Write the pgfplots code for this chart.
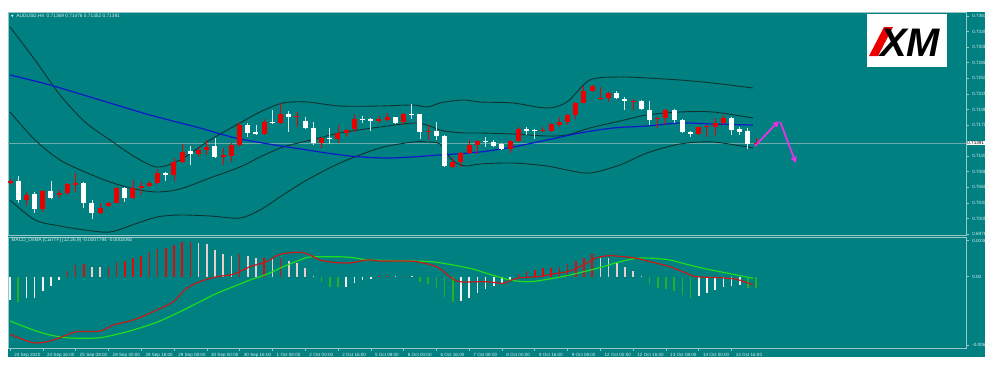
\documentclass[border=0pt]{standalone}
\usepackage{pgfplots}
\pgfplotsset{compat=1.18}
\usepackage{pgfplotstable}
\usepackage{fontspec}
\setmainfont{Liberation Sans}
\newfontfamily\dejavu{DejaVu Sans}
\usetikzlibrary{arrows.meta}

\definecolor{bg}{RGB}{0,128,128}
\definecolor{axl}{RGB}{150,200,200}
\definecolor{lab}{RGB}{225,240,240}
\definecolor{band}{RGB}{15,50,50}
\definecolor{ma}{RGB}{15,25,200}
\definecolor{cred}{RGB}{235,0,0}
\definecolor{cwick}{RGB}{215,230,230}
\definecolor{hred}{RGB}{225,10,10}
\definecolor{hpink}{RGB}{235,205,205}
\definecolor{hgreen}{RGB}{40,175,40}
\definecolor{hwhite}{RGB}{240,240,240}
\definecolor{mred}{RGB}{200,25,25}
\definecolor{mgreen}{RGB}{30,220,30}
\definecolor{arrowc}{RGB}{230,50,230}
\definecolor{curline}{RGB}{110,172,172}

% red (bullish) candles: index open high low close
\pgfplotstableread{
x o h l c
0 0.70676 0.70743 0.70654 0.70721
2 0.70381 0.70527 0.70275 0.70469
4 0.70216 0.70557 0.70174 0.70540
6 0.70469 0.70557 0.70411 0.70510
7 0.70510 0.70686 0.70469 0.70658
8 0.70646 0.70863 0.70527 0.70686
11 0.70156 0.70328 0.70133 0.70245
12 0.70275 0.70351 0.70262 0.70322
13 0.70333 0.70610 0.70319 0.70587
15 0.70411 0.70734 0.70393 0.70587
16 0.70587 0.70704 0.70469 0.70628
17 0.70628 0.70721 0.70616 0.70676
18 0.70676 0.70923 0.70658 0.70852
20 0.70822 0.71117 0.70721 0.71057
21 0.71057 0.71370 0.71039 0.71234
23 0.71193 0.71311 0.71145 0.71264
24 0.71264 0.71440 0.71175 0.71322
26 0.71140 0.71299 0.70999 0.71175
27 0.71158 0.71387 0.71057 0.71352
28 0.71352 0.71758 0.71317 0.71705
31 0.71541 0.71806 0.71529 0.71763
33 0.71735 0.72088 0.71723 0.71899
35 0.71854 0.71940 0.71675 0.71871
38 0.71393 0.71498 0.71294 0.71470
40 0.71458 0.71705 0.71382 0.71569
41 0.71569 0.71629 0.71511 0.71617
42 0.71629 0.71899 0.71573 0.71806
45 0.71781 0.71864 0.71735 0.71806
46 0.71793 0.71912 0.71763 0.71841
48 0.71753 0.71912 0.71705 0.71899
51 0.71587 0.71705 0.71440 0.71604
54 0.70969 0.71145 0.70940 0.71057
55 0.71057 0.71234 0.70969 0.71216
56 0.71205 0.71440 0.71193 0.71352
57 0.71352 0.71440 0.71193 0.71428
61 0.71276 0.71440 0.71205 0.71423
62 0.71423 0.71665 0.71410 0.71629
65 0.71599 0.71675 0.71573 0.71617
66 0.71599 0.71735 0.71573 0.71718
67 0.71705 0.71841 0.71675 0.71763
68 0.71763 0.71899 0.71705 0.71882
69 0.71882 0.72117 0.71806 0.72099
70 0.72099 0.72394 0.72088 0.72311
71 0.72311 0.72412 0.72293 0.72394
72 0.72159 0.72371 0.72147 0.72177
73 0.72177 0.72293 0.72117 0.72265
76 0.72124 0.72159 0.71965 0.72134
79 0.71806 0.71841 0.71647 0.71824
80 0.71824 0.71982 0.71705 0.71970
84 0.71541 0.71675 0.71529 0.71665
85 0.71665 0.71705 0.71499 0.71688
86 0.71675 0.71824 0.71529 0.71746
87 0.71735 0.71882 0.71705 0.71834
91 0.71369 0.71476 0.71352 0.71391
}\redc

% white (bearish) candles
\pgfplotstableread{
x o h l c
1 0.70716 0.70804 0.70333 0.70375
3 0.70487 0.70527 0.70156 0.70222
5 0.70540 0.70716 0.70393 0.70421
9 0.70686 0.70700 0.70234 0.70333
10 0.70333 0.70381 0.70040 0.70156
14 0.70587 0.70616 0.70351 0.70411
19 0.70852 0.70880 0.70721 0.70822
22 0.71246 0.71334 0.70999 0.71193
25 0.71334 0.71476 0.71122 0.71145
29 0.71705 0.71735 0.71499 0.71569
30 0.71587 0.71705 0.71529 0.71541
32 0.71763 0.71970 0.71723 0.71735
34 0.71899 0.71958 0.71587 0.71841
36 0.71781 0.71854 0.71640 0.71647
37 0.71647 0.71763 0.71352 0.71393
39 0.71470 0.71647 0.71370 0.71453
43 0.71806 0.71864 0.71735 0.71793
44 0.71806 0.71824 0.71604 0.71781
47 0.71841 0.71854 0.71717 0.71746
49 0.71899 0.72076 0.71806 0.71882
50 0.71899 0.71905 0.71453 0.71587
52 0.71604 0.71753 0.71440 0.71511
53 0.71511 0.71529 0.70963 0.70981
58 0.71428 0.71499 0.71322 0.71410
59 0.71410 0.71440 0.71311 0.71334
60 0.71370 0.71382 0.71264 0.71281
63 0.71629 0.71675 0.71529 0.71599
64 0.71617 0.71629 0.71453 0.71599
74 0.72276 0.72311 0.72159 0.72177
75 0.72170 0.72194 0.71965 0.72134
77 0.72134 0.72147 0.71977 0.71982
78 0.71977 0.72134 0.71705 0.71793
81 0.71970 0.71982 0.71746 0.71793
82 0.71793 0.71806 0.71559 0.71576
83 0.71587 0.71599 0.71499 0.71541
88 0.71824 0.71841 0.71529 0.71617
89 0.71629 0.71675 0.71529 0.71587
90 0.71599 0.71647 0.71276 0.71370
}\whitec

\pgfplotsset{
  chart/.style={scale only axis, width=958bp, xmin=-0.244, xmax=116.6,
    axis line style={draw=axl, line width=0.6bp},
    tick style={draw=axl, line width=0.5bp},
    tick align=outside, major tick length=2.5bp,
    ticklabel style={font=\fontsize{4.6}{5}\selectfont, text=lab},
    /pgf/number format/assume math mode=true,
    scaled y ticks=false},
  candle/.style={only marks, mark=*, mark options={draw opacity=0, fill opacity=0, scale=0.01},
    error bars/.cd, y dir=plus, y explicit, error mark=none},
}

\begin{document}
\begin{tikzpicture}
\fill[white] (0,0) rectangle (1000bp,-372bp);
\fill[bg] (8bp,-12bp) rectangle (985bp,-357bp);

% ---------- price panel ----------
\begin{axis}[chart, at={(8bp,-235bp)}, anchor=south west, height=223bp,
  ymin=0.697625, ymax=0.737007,
  xtick=\empty, ytick pos=right, yticklabel pos=right,
  ytick={0.7363,0.73355,0.7308,0.72805,0.7253,0.72255,0.7198,0.71705,0.71155,0.7088,0.70605,0.7033,0.70055,0.6978},
  yticklabels={0.73630,0.73355,0.73080,0.72805,0.72530,0.72255,0.71980,0.71705,0.71155,0.70880,0.70605,0.70330,0.70055,0.69780},
  yticklabel style={anchor=west, xshift=0.3bp}]

\addplot[curline, line width=0.5bp] coordinates {(-0.244,0.71391) (116.6,0.71391)};

% Bollinger bands
\addplot[band, line width=0.9bp, smooth] coordinates {(0,0.734358) (3.05,0.72853) (6.10,0.722349) (9.15,0.717581) (12.20,0.714402) (15.24,0.711400) (17.93,0.709634) (20.73,0.710870) (24.39,0.714402) (28.05,0.717404) (30.49,0.719347) (33.29,0.720936) (36.22,0.721113) (40.24,0.720406) (45.12,0.720406) (49.15,0.720583) (50.85,0.720230) (52.44,0.720936) (53.90,0.721289) (55.49,0.721466) (57.32,0.721113) (61.34,0.720936) (65.49,0.720053) (67.93,0.721113) (70.73,0.724998) (74.39,0.725528) (77.68,0.725351) (81.71,0.724998) (85.73,0.724468) (90.61,0.723585)};
\addplot[band, line width=0.9bp, smooth] coordinates {(0,0.719347) (3.05,0.714402) (6.10,0.710870) (9.15,0.708751) (12.20,0.706985) (15.24,0.705749) (17.93,0.705219) (20.73,0.705749) (24.39,0.707691) (28.05,0.709634) (30.49,0.711400) (33.29,0.713166) (36.22,0.714225) (40.24,0.715638) (45.12,0.716698) (49.15,0.717404) (50.85,0.717051) (52.44,0.716168) (53.90,0.715815) (55.49,0.715638) (57.32,0.715638) (61.34,0.715462) (65.49,0.715108) (67.93,0.715285) (70.73,0.716521) (74.39,0.717757) (77.68,0.718817) (81.71,0.719347) (85.73,0.719347) (90.61,0.718287)};
\addplot[band, line width=0.9bp, smooth] coordinates {(0,0.703806) (3.05,0.700274) (6.10,0.699214) (9.15,0.698508) (12.20,0.698155) (15.24,0.699568) (17.93,0.700804) (20.73,0.701157) (24.39,0.700980) (28.05,0.700627) (30.49,0.702040) (33.29,0.704689) (36.22,0.707338) (40.24,0.710340) (45.12,0.712989) (49.15,0.714049) (50.85,0.714049) (52.44,0.713696) (53.90,0.710870) (55.49,0.709810) (57.32,0.710164) (61.34,0.710340) (65.49,0.709810) (67.93,0.709104) (70.73,0.708574) (74.39,0.709987) (77.68,0.712106) (81.71,0.713696) (85.73,0.714049) (90.61,0.712989)};
% moving average
\addplot[ma, line width=1.2bp, smooth] coordinates {(0,0.725881) (4.88,0.724115) (10.98,0.721466) (17.07,0.718817) (23.17,0.716521) (28.05,0.714579) (36.22,0.712636) (41.46,0.711576) (46.34,0.711223) (52.44,0.711753) (57.32,0.712283) (61.34,0.713166) (65.49,0.714402) (69.51,0.715638) (73.54,0.716521) (77.68,0.716874) (81.71,0.717404) (85.73,0.717228) (90.61,0.717051)};

% candles: wicks
\addplot[candle, error bar style={draw=cred, line width=0.9bp}]
  table[x=x, y=l, y error plus expr=\thisrow{h}-\thisrow{l}] {\redc};
\addplot[candle, error bar style={draw=cwick, line width=0.9bp}]
  table[x=x, y=l, y error plus expr=\thisrow{h}-\thisrow{l}] {\whitec};
% candles: bodies
\addplot[candle, error bar style={draw=cred, line width=5bp}]
  table[x=x, y=o, y error plus expr=\thisrow{c}-\thisrow{o}] {\redc};
\addplot[candle, error bar style={draw=white, line width=5bp}]
  table[x=x, y=c, y error plus expr=\thisrow{o}-\thisrow{c}] {\whitec};

% arrows
\addplot[arrowc, line width=1.8bp, -{Triangle[width=6bp,length=6bp]}] coordinates {(90.85,0.71334) (93.78,0.71776)};
\addplot[arrowc, line width=1.8bp, -{Triangle[width=6bp,length=6bp]}] coordinates {(93.95,0.71758) (95.85,0.71034)};
\end{axis}

% ---------- MACD panel ----------
\begin{axis}[chart, at={(8bp,-348bp)}, anchor=south west, height=111bp,
  ymin=-0.006545, ymax=0.003644,
  xtick={0,4,...,88}, xtick pos=bottom,
  xticklabels={24 Sep 2020,24 Sep 16:00,25 Sep 08:00,28 Sep 00:00,28 Sep 16:00,29 Sep 08:00,30 Sep 00:00,30 Sep 16:00,1 Oct 08:00,2 Oct 00:00,2 Oct 16:00,5 Oct 08:00,6 Oct 00:00,6 Oct 16:00,7 Oct 08:00,8 Oct 00:00,8 Oct 16:00,9 Oct 08:00,12 Oct 00:00,12 Oct 16:00,13 Oct 08:00,14 Oct 00:00,14 Oct 16:00},
  xticklabel style={anchor=north west, xshift=0.8bp, yshift=1.2bp},
  ytick pos=right, yticklabel pos=right,
  ytick={0.00333,0,-0.00627}, yticklabels={0.003642,0.00,-0.006454},
  yticklabel style={anchor=west, xshift=0.3bp}]

\addplot[ycomb, hred, line width=1.6bp] coordinates {(7,0.000523) (8,0.001074) (9,0.001138) (12,0.000918) (13,0.001377) (14,0.001469) (15,0.001744) (16,0.001928) (17,0.00224) (18,0.002543) (19,0.002607) (20,0.00291) (21,0.003158) (22,0.00319) (28,0.002056) (31,0.00175) (33,0.00172) (45,0.00005) (46,0.00008) (48,0.00008) (62,0.00022) (63,0.000523) (64,0.000615) (65,0.000771) (66,0.000826) (67,0.000918) (68,0.001138) (69,0.001441) (70,0.001744) (71,0.002056)};
\addplot[ycomb, hpink, line width=1.6bp] coordinates {(10,0.000918) (11,0.000863) (23,0.003066) (24,0.002974) (25,0.002451) (26,0.002056) (27,0.0019) (29,0.001928) (30,0.001689) (32,0.00168) (34,0.001441) (35,0.00123) (36,0.000771) (37,0.0001) (47,0.00006) (49,0.00005) (72,0.001744) (73,0.001689) (74,0.001322) (75,0.000918) (76,0.000523) (77,0.00005)};
\addplot[ycomb, hgreen, line width=1.6bp] coordinates {(1,-0.002295) (38,-0.000459) (39,-0.000918) (40,-0.00095) (50,-0.000459) (51,-0.000698) (52,-0.00101) (53,-0.001836) (54,-0.002295) (78,-0.000698) (79,-0.001065) (80,-0.0011) (81,-0.001313) (82,-0.00168) (83,-0.001928) (90,-0.00101) (91,-0.001065)};
\addplot[ycomb, hwhite, line width=1.6bp] coordinates {(0,-0.002139) (2,-0.00196) (3,-0.00192) (4,-0.001313) (5,-0.000854) (6,-0.000303) (41,-0.00092) (42,-0.000606) (43,-0.000303) (44,-0.00018) (55,-0.00222) (56,-0.001983) (57,-0.001524) (58,-0.001129) (59,-0.000826) (60,-0.000606) (61,-0.000303) (84,-0.001772) (85,-0.001524) (86,-0.001221) (87,-0.000918) (88,-0.000826) (89,-0.000762)};

% signal line (green) and MACD line (red)
\addplot[mgreen, line width=1.2bp, smooth] coordinates {(0,-0.004066) (2.84,-0.004892) (4.88,-0.005351) (6.91,-0.005599) (8.94,-0.005654) (10.98,-0.005599) (13.01,-0.005287) (15.04,-0.004892) (17.89,-0.004186) (20.33,-0.003359) (23.17,-0.002295) (25.21,-0.001524) (27.23,-0.000918) (29.27,-0.000303) (31.3,0.00022) (33.33,0.000918) (35.37,0.001533) (36.59,0.001808) (39.43,0.001836) (41.46,0.001781) (43.9,0.001533) (49.18,0.001441) (52.04,0.001322) (56.1,0.000771) (58.13,0.000312) (60.98,-0.000303) (63.41,-0.000459) (66.26,-0.000147) (68.29,0.000156) (70.33,0.000523) (72.35,0.000918) (74.39,0.001377) (76.43,0.001689) (78.45,0.001689) (80.49,0.001533) (82.52,0.001138) (84.55,0.000771) (86.59,0.000459) (88.62,0.000156) (90.65,-0.000147)};
\addplot[mred, line width=1.2bp, smooth] coordinates {(0,-0.005287) (2.84,-0.006058) (4.88,-0.005902) (6.91,-0.005351) (8.13,-0.005048) (10.98,-0.004984) (12.6,-0.004433) (15.04,-0.003975) (17.89,-0.003057) (19.91,-0.002295) (21.55,-0.001065) (23.17,-0.000459) (25.21,0) (27.23,0.00022) (29.27,0.000918) (31.3,0.001377) (32.93,0.002056) (35.37,0.00224) (36.59,0.001992) (37.8,0.001533) (39.43,0.001322) (41.46,0.001258) (43.5,0.001533) (45.12,0.001441) (47.96,0.001441) (49.6,0.001377) (52.04,0.000918) (53.66,0) (54.88,-0.000459) (58.13,-0.000459) (60.16,-0.000606) (61.79,-0.000147) (64.23,0) (66.67,0.000312) (68.29,0.000523) (69.91,0.001074) (71.55,0.001744) (73.17,0.001928) (74.79,0.001836) (76.43,0.001689) (78.87,0.00123) (80.49,0.000918) (82.52,0.000312) (83.74,0) (86.59,-0.000092) (88.62,-0.000239) (90.65,-0.000762)};
\end{axis}

% texts
\node[anchor=west, inner sep=0, font=\fontsize{4.8}{5}\selectfont, text=lab] at (11bp,-15.7bp)
  {{\dejavu\fontsize{3.4}{4}\selectfont ▼}\ \ AUDUSD,H4\ \ 0.71369 0.71476 0.71352 0.71391};
\node[anchor=west, inner sep=0, font=\fontsize{4.8}{5}\selectfont, text=lab] at (11.5bp,-240.7bp)
  {MACD\_OsMA [CurrTF] (12,26,9) -0.0007794 -0.0002092};
\node[anchor=west, fill=white, inner sep=0.7bp, font=\fontsize{4.6}{5}\selectfont, text=black] at (966.5bp,-143bp) {0.71391};

% XM logo
\fill[white] (867bp,-14bp) rectangle (947bp,-67bp);
\fill[cred] (869bp,-56bp) -- (878bp,-56bp) -- (893bp,-27bp) -- (884bp,-27bp) -- cycle;
\node[anchor=base west, inner sep=0, font=\fontsize{40}{40}\selectfont\bfseries\itshape] at (880bp,-56bp) {XM};
\end{tikzpicture}
\end{document}
